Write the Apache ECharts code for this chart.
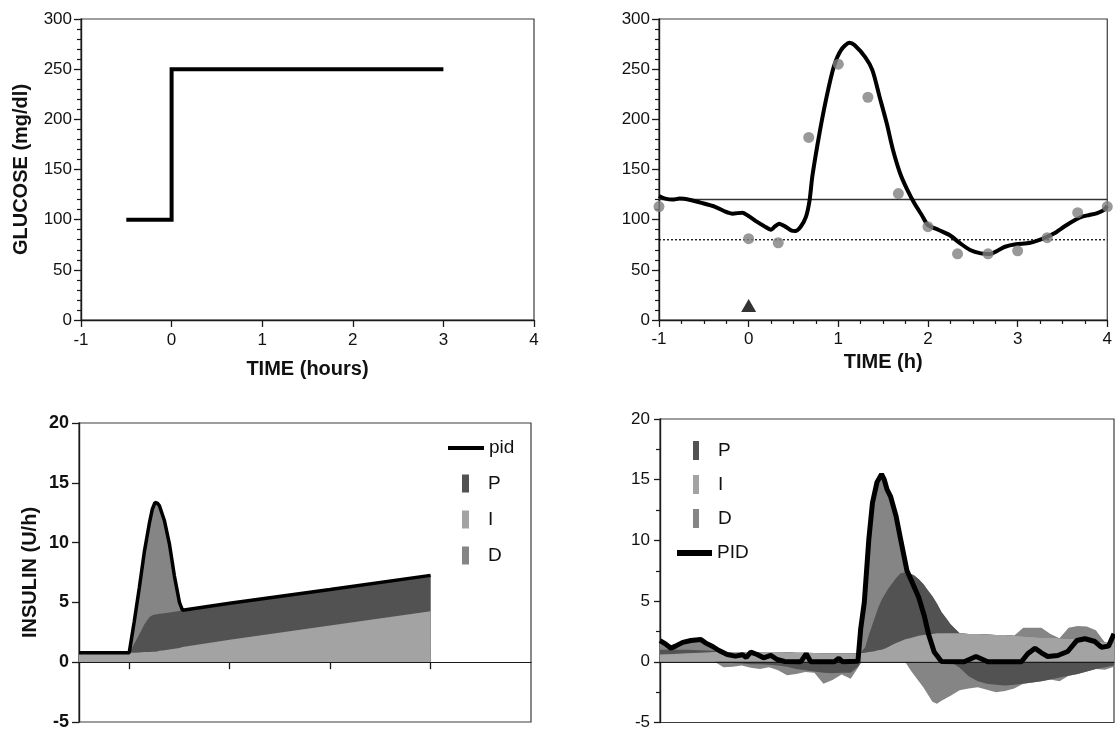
<!DOCTYPE html>
<html><head><meta charset="utf-8">
<script src="https://cdn.jsdelivr.net/npm/echarts@6/dist/echarts.min.js"></script>
<style>html,body{margin:0;padding:0;background:#fff}#c{width:1115px;height:731px}</style>
</head><body><div id="c"></div>
<script>
// ---------- Panel A (top-left): glucose clamp step ----------
const stepTime = [-0.5, 0, 0, 3];
const stepGlucose = [100, 100, 250, 250];

// ---------- Panel B (top-right): sensor glucose, blood glucose, limits ----------
const sensorTime = [-1.0, -0.93, -0.85, -0.77, -0.65, -0.54, -0.38, -0.26, -0.18, -0.07, 0.01, 0.09, 0.17, 0.25, 0.29, 0.34, 0.40, 0.48, 0.52, 0.58, 0.64, 0.68, 0.71, 0.79, 0.87, 0.95, 1.03, 1.125, 1.18, 1.30, 1.38, 1.46, 1.54, 1.61, 1.69, 1.77, 1.85, 1.93, 2.00, 2.12, 2.24, 2.36, 2.47, 2.59, 2.69, 2.79, 2.86, 2.98, 3.14, 3.29, 3.41, 3.53, 3.64, 3.72, 3.80, 3.88, 3.96, 4.0];
const sensorGlucose = [123.6, 121, 120, 121, 119.6, 117, 113, 108, 106, 107, 103, 98, 93.7, 90, 93, 96, 93.7, 89, 88.7, 93, 103, 119.6, 143, 186, 222.6, 252.5, 269, 276.4, 274, 262, 249, 222.6, 196, 169.4, 146, 129.6, 116, 104.7, 94.7, 89.7, 84.7, 76.4, 69.8, 66.4, 65.8, 69.8, 73, 75.4, 77, 81.4, 86.4, 93.7, 99.7, 103, 104.7, 106.3, 109.6, 113.6];
const bgTime = [-1, 0, 0.33, 0.67, 1, 1.33, 1.67, 2, 2.33, 2.67, 3, 3.33, 3.67, 4];
const bgValue = [113, 81, 77, 182, 255, 222, 126, 93, 66, 66, 69, 82, 107, 113];
const limitTime = [-1, 4];
const upperLimit = [120, 120];
const lowerLimit = [80, 80];
const mealTime = [0];
const mealMark = [14.5];

// ---------- Panel C (bottom-left): simulated PID components ----------
const T3 = [-0.5, 0, 0.05, 0.1, 0.15, 0.2, 0.23, 0.256, 0.28, 0.3, 0.35, 0.4, 0.45, 0.5, 0.53, 1, 2, 3];
const I3 = [0.8, 0.8, 0.8, 0.82, 0.85, 0.86, 0.87, 0.88, 0.9, 0.95, 1.0, 1.06, 1.12, 1.18, 1.27, 1.87, 3.06, 4.26];
const P3 = [0, 0, 0.75, 1.5, 2.3, 2.9, 3.05, 3.1, 3.1, 3.1, 3.1, 3.1, 3.1, 3.1, 3.08, 3.05, 3.02, 3.0];
const D3 = [0, 0, 1.85, 3.88, 6.05, 7.84, 8.88, 9.37, 9.3, 9.05, 7.75, 5.74, 2.98, 0.72, 0, 0, 0, 0];
const pid3 = [0.8, 0.8, 3.4, 6.2, 9.2, 11.6, 12.8, 13.35, 13.3, 13.1, 11.85, 9.9, 7.2, 5.0, 4.35, 4.92, 6.08, 7.26];

// ---------- Panel D (bottom-right): measured PID components ----------
const T4 = [-1, -0.85, -0.7, -0.55, -0.4, -0.3, -0.2, -0.1, 0, 0.1, 0.2, 0.3, 0.4, 0.5, 0.6, 0.7, 0.8, 0.9, 1.0, 1.1, 1.18, 1.22, 1.26, 1.3, 1.35, 1.4, 1.44, 1.48, 1.52, 1.56, 1.6, 1.65, 1.7, 1.75, 1.8, 1.85, 1.9, 1.95, 2.0, 2.05, 2.1, 2.15, 2.2, 2.3, 2.4, 2.5, 2.6, 2.7, 2.8, 2.9, 3.0, 3.1, 3.2, 3.3, 3.4, 3.5, 3.6, 3.7, 3.8, 3.9, 4.0];
const I4 = [0.6, 0.65, 0.7, 0.75, 0.8, 0.8, 0.8, 0.8, 0.8, 0.8, 0.8, 0.8, 0.78, 0.75, 0.75, 0.72, 0.7, 0.7, 0.7, 0.7, 0.7, 0.72, 0.75, 0.8, 0.85, 0.95, 1.0, 1.1, 1.25, 1.4, 1.55, 1.7, 1.85, 1.95, 2.05, 2.15, 2.2, 2.25, 2.3, 2.35, 2.35, 2.35, 2.35, 2.35, 2.3, 2.3, 2.25, 2.2, 2.2, 2.15, 2.1, 2.05, 2.0, 2.0, 1.95, 1.9, 1.85, 1.8, 1.7, 1.6, 1.5];
const P4 = [0.4, 0.35, 0.3, 0.2, 0.1, -0.05, -0.1, -0.15, -0.2, -0.2, -0.25, -0.3, -0.4, -0.6, -0.7, -0.8, -0.9, -0.95, -0.9, -0.9, -0.4, 0.1, 0.45, 1.4, 2.45, 3.45, 4.1, 4.5, 4.85, 5.1, 5.35, 5.6, 5.5, 5.35, 5.05, 4.65, 4.2, 3.65, 3.1, 2.45, 1.75, 1.25, 0.75, -0.5, -1.2, -1.6, -1.8, -1.9, -1.95, -1.9, -1.8, -1.7, -1.6, -1.45, -1.3, -1.15, -1.0, -0.8, -0.6, -0.45, -0.3];
const D4 = [0.75, 0.3, 0.7, 0.85, 0.3, -0.4, -0.3, -0.15, -0.3, -0.4, -0.2, -0.4, -0.7, -0.4, -0.15, -0.1, -0.9, -0.55, -0.15, -0.5, -0.1, 2.45, 4.3, 7.9, 10.1, 10.5, 10.35, 9.2, 7.8, 6.6, 5.1, 2.8, 0.85, -0.6, -1.1, -1.6, -2.1, -2.7, -3.3, -3.45, -3.2, -3.0, -2.8, -1.85, -1.0, -0.5, -0.5, -0.6, -0.45, -0.3, 0.7, 0.75, 0.8, 0.3, -0.3, 0.9, 1.1, 1.1, 0.9, -0.2, -0.1];
const pidT4 = [-1, -0.94, -0.88, -0.83, -0.75, -0.66, -0.55, -0.5, -0.42, -0.35, -0.26, -0.17, -0.09, -0.05, 0.0, 0.07, 0.14, 0.22, 0.29, 0.37, 0.55, 0.61, 0.66, 0.92, 0.97, 1.01, 1.18, 1.21, 1.25, 1.3, 1.34, 1.39, 1.44, 1.47, 1.5, 1.54, 1.6, 1.65, 1.72, 1.78, 1.85, 1.91, 1.96, 2.02, 2.1, 2.35, 2.48, 2.61, 2.98, 3.05, 3.13, 3.2, 3.27, 3.38, 3.49, 3.59, 3.68, 3.79, 3.86, 3.94, 4.0];
const pidV4 = [1.75, 1.48, 1.12, 1.29, 1.6, 1.75, 1.84, 1.56, 1.26, 0.93, 0.6, 0.47, 0.58, 0.36, 0.8, 0.6, 0.33, 0.52, 0.19, 0.03, 0, 0.66, 0, 0, 0.3, 0, 0.05, 2.7, 4.9, 10.1, 13.1, 14.8, 15.45, 15.0, 14.2, 13.6, 12.0, 10.1, 7.5, 6.5, 5.3, 3.8, 2.2, 0.8, 0.03, 0, 0.44, 0, 0, 0.66, 1.12, 0.74, 0.44, 0.52, 0.85, 1.75, 1.9, 1.67, 1.2, 1.29, 2.3];

// ---------- styling ----------
const FONT = '"Liberation Sans", Arial, Helvetica, sans-serif';
const COL_P = '#525252', COL_I = '#a3a3a3', COL_D = '#858585';
const AX = '#1a1a1a';
const pairs = (xs, ys) => xs.map((x, i) => [x, ys[i]]);
const pos = a => a.map(v => Math.max(v, 0));
const neg = a => a.map(v => Math.min(v, 0));
const add = (a, b) => a.map((v, i) => v + b[i]);

// cumulative layer tops (painted back-to-front, each filled from zero)
const C3_I = I3, C3_IP = add(I3, P3), C3_IPD = add(C3_IP, D3);
const C4_I = I4, C4_IP = add(I4, pos(P4)), C4_IPD = add(C4_IP, pos(D4));
const C4_Pn = neg(P4), C4_PDn = add(neg(P4), neg(D4));

const gridBase = {show: true, borderColor: '#3c3c3c', borderWidth: 1.2, backgroundColor: 'transparent', containLabel: false};
const lbl = (size, bold, margin) => ({fontSize: size, fontWeight: bold ? 'bold' : 'normal', color: '#111', fontFamily: FONT, margin: margin});
const axLine = {lineStyle: {color: AX, width: 1.4}};

function area(name, x, y, color, grid) {
  return {type: 'line', name: name, xAxisIndex: grid, yAxisIndex: grid, data: pairs(x, y),
    showSymbol: false, symbol: 'none', color: color,
    lineStyle: {width: 0, color: color}, areaStyle: {color: color, opacity: 1, origin: 0}, z: 2, silent: true};
}

const option = {
  animation: false,
  backgroundColor: '#fff',
  textStyle: {fontFamily: FONT},
  grid: [
    Object.assign({left: 81, top: 19, width: 453, height: 301}, gridBase),
    Object.assign({left: 659, top: 19, width: 454, height: 301}, gridBase),
    Object.assign({left: 79, top: 423, width: 452, height: 301}, gridBase),
    Object.assign({left: 660, top: 419, width: 454, height: 304}, gridBase)
  ],
  xAxis: [
    {gridIndex: 0, type: 'value', min: -1, max: 4, interval: 1, axisLine: axLine,
     axisTick: {length: 7, lineStyle: {color: AX, width: 1.3}}, axisLabel: lbl(17, false, 12), splitLine: {show: false},
     name: 'TIME (hours)', nameLocation: 'middle', nameGap: 39,
     nameTextStyle: {fontSize: 20, fontWeight: 'bold', color: '#111', fontFamily: FONT}},
    {gridIndex: 1, type: 'value', min: -1, max: 4, interval: 1, axisLine: axLine,
     axisTick: {length: 7, lineStyle: {color: AX, width: 1.3}},
     minorTick: {show: true, splitNumber: 4, length: 4, lineStyle: {color: AX, width: 1.2}},
     axisLabel: lbl(17, false, 11), splitLine: {show: false}, minorSplitLine: {show: false},
     name: 'TIME (h)', nameLocation: 'middle', nameGap: 32,
     nameTextStyle: {fontSize: 20, fontWeight: 'bold', color: '#111', fontFamily: FONT}},
    {gridIndex: 2, type: 'value', min: -0.5, max: 4, z: 5,
     axisLine: {onZero: true, lineStyle: {color: AX, width: 1.2}},
     axisTick: {show: true, customValues: [0, 1, 2, 3], length: 7, lineStyle: {color: AX, width: 1.3}},
     axisLabel: {show: false}, splitLine: {show: false}},
    {gridIndex: 3, type: 'value', min: -1, max: 4, z: 5,
     axisLine: {onZero: true, lineStyle: {color: AX, width: 1.2}},
     axisTick: {show: false}, axisLabel: {show: false}, splitLine: {show: false}}
  ],
  yAxis: [
    {gridIndex: 0, type: 'value', min: 0, max: 300, interval: 50,
     axisLine: {show: true, onZero: false, lineStyle: {color: AX, width: 1.4}},
     axisTick: {show: true, length: 7, lineStyle: {color: AX, width: 1.3}},
     minorTick: {show: true, splitNumber: 5, length: 4, lineStyle: {color: AX, width: 1.2}},
     axisLabel: lbl(17, false, 9), splitLine: {show: false}, minorSplitLine: {show: false},
     name: 'GLUCOSE (mg/dl)', nameLocation: 'middle', nameGap: 50,
     nameTextStyle: {fontSize: 20, fontWeight: 'bold', color: '#111', fontFamily: FONT}},
    {gridIndex: 1, type: 'value', min: 0, max: 300, interval: 50,
     axisLine: {show: true, onZero: false, lineStyle: {color: AX, width: 1.4}},
     axisTick: {show: true, length: 7, lineStyle: {color: AX, width: 1.3}},
     minorTick: {show: true, splitNumber: 5, length: 4, lineStyle: {color: AX, width: 1.2}},
     axisLabel: lbl(17, false, 9), splitLine: {show: false}, minorSplitLine: {show: false}},
    {gridIndex: 2, type: 'value', min: -5, max: 20, interval: 5,
     axisLine: {show: true, onZero: false, lineStyle: {color: AX, width: 1.4}},
     axisTick: {show: true, length: 7, lineStyle: {color: AX, width: 1.3}},
     axisLabel: lbl(18, true, 10), splitLine: {show: false},
     name: 'INSULIN (U/h)', nameLocation: 'middle', nameGap: 39,
     nameTextStyle: {fontSize: 20, fontWeight: 'bold', color: '#111', fontFamily: FONT}},
    {gridIndex: 3, type: 'value', min: -5, max: 20, interval: 5,
     axisLine: {show: true, onZero: false, lineStyle: {color: AX, width: 1.4}},
     axisTick: {show: true, length: 6, lineStyle: {color: AX, width: 1.3}},
     minorTick: {show: true, splitNumber: 2, length: 4, lineStyle: {color: AX, width: 1.2}},
     axisLabel: lbl(17, false, 10), splitLine: {show: false}, minorSplitLine: {show: false}}
  ],
  legend: [
    {left: 448, top: 438, padding: 0, orient: 'vertical', selectedMode: false,
     itemWidth: 36, itemHeight: 4, textStyle: {fontSize: 19, color: '#111', fontFamily: FONT, lineHeight: 20},
     data: [{name: 'pid', icon: 'rect', itemStyle: {color: '#000', borderWidth: 0}}]},
    {left: 462, top: 474, padding: 0, orient: 'vertical', selectedMode: false, itemGap: 17,
     itemWidth: 7, itemHeight: 18,
     textStyle: {fontSize: 19, color: '#111', fontFamily: FONT, lineHeight: 18, padding: [0, 0, 0, 14]},
     data: [{name: 'P', icon: 'rect', itemStyle: {color: COL_P, borderWidth: 0}},
            {name: 'I', icon: 'rect', itemStyle: {color: COL_I, borderWidth: 0}},
            {name: 'D', icon: 'rect', itemStyle: {color: COL_D, borderWidth: 0}}]},
    {left: 693, top: 441, padding: 0, orient: 'vertical', selectedMode: false, itemGap: 15,
     itemWidth: 6, itemHeight: 19,
     textStyle: {fontSize: 19, color: '#111', fontFamily: FONT, lineHeight: 19, padding: [0, 0, 0, 14]},
     data: [{name: 'P', icon: 'rect', itemStyle: {color: COL_P, borderWidth: 0}},
            {name: 'I', icon: 'rect', itemStyle: {color: COL_I, borderWidth: 0}},
            {name: 'D', icon: 'rect', itemStyle: {color: COL_D, borderWidth: 0}}]},
    {left: 677, top: 543, padding: 0, orient: 'vertical', selectedMode: false,
     itemWidth: 35, itemHeight: 6, textStyle: {fontSize: 19, color: '#111', fontFamily: FONT, lineHeight: 20},
     data: [{name: 'PID', icon: 'rect', itemStyle: {color: '#000', borderWidth: 0}}]}
  ],
  series: [
    // Panel A
    {type: 'line', name: 'clamp', xAxisIndex: 0, yAxisIndex: 0, data: pairs(stepTime, stepGlucose),
     showSymbol: false, symbol: 'none', color: '#000', lineStyle: {width: 4, color: '#000', join: 'miter'}},
    // Panel B
    {type: 'line', name: 'upper', xAxisIndex: 1, yAxisIndex: 1, data: pairs(limitTime, upperLimit),
     showSymbol: false, symbol: 'none', lineStyle: {width: 1.5, color: '#333'}, z: 1},
    {type: 'line', name: 'lower', xAxisIndex: 1, yAxisIndex: 1, data: pairs(limitTime, lowerLimit),
     showSymbol: false, symbol: 'none', lineStyle: {width: 1.3, color: '#111', type: [2, 2]}, z: 1},
    {type: 'line', name: 'sensor', xAxisIndex: 1, yAxisIndex: 1, data: pairs(sensorTime, sensorGlucose),
     showSymbol: false, symbol: 'none', smooth: 0.25, color: '#000', lineStyle: {width: 4, color: '#000'}},
    {type: 'scatter', name: 'blood', xAxisIndex: 1, yAxisIndex: 1, data: pairs(bgTime, bgValue),
     symbolSize: 11, itemStyle: {color: '#7f7f7f'}, z: 4},
    {type: 'scatter', name: 'meal', xAxisIndex: 1, yAxisIndex: 1, data: pairs(mealTime, mealMark),
     symbol: 'triangle', symbolSize: [15, 13], itemStyle: {color: '#000'}, z: 4},
    // Panel C (painted back to front)
    area('D', T3, C3_IPD, COL_D, 2),
    area('P', T3, C3_IP, COL_P, 2),
    area('I', T3, C3_I, COL_I, 2),
    {type: 'line', name: 'pid', xAxisIndex: 2, yAxisIndex: 2, data: pairs(T3, pid3),
     showSymbol: false, symbol: 'none', color: '#000', lineStyle: {width: 3.5, color: '#000'}, z: 6},
    // Panel D (painted back to front)
    area('D', T4, C4_IPD, COL_D, 3),
    area('P', T4, C4_IP, COL_P, 3),
    area('I', T4, C4_I, COL_I, 3),
    area('D', T4, C4_PDn, COL_D, 3),
    area('P', T4, C4_Pn, COL_P, 3),
    {type: 'line', name: 'PID', xAxisIndex: 3, yAxisIndex: 3, data: pairs(pidT4, pidV4),
     showSymbol: false, symbol: 'none', color: '#000', lineStyle: {width: 5, color: '#000'}, z: 6}
  ]
};
const chart = echarts.init(document.getElementById('c'), null, {renderer: 'canvas'});
chart.setOption(option);
</script></body></html>
